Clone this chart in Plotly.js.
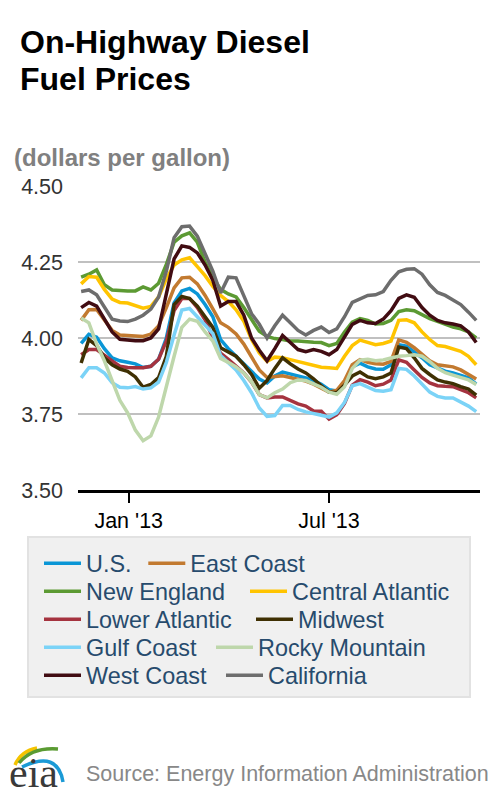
<!DOCTYPE html>
<html><head><meta charset="utf-8">
<script src="https://cdn.plot.ly/plotly-3.0.1.min.js"></script>
<style>html,body{margin:0;padding:0;background:#fff;} #chart{width:500px;height:800px;}</style>
</head><body><div id="chart"></div>
<script>
// ---- data (weekly retail on-highway diesel, dollars per gallon) ----
const weekDates = ['2012-11-19','2012-11-26','2012-12-03','2012-12-10','2012-12-17','2012-12-24','2012-12-31',
 '2013-01-07','2013-01-14','2013-01-21','2013-01-28','2013-02-04','2013-02-11','2013-02-18','2013-02-25',
 '2013-03-04','2013-03-11','2013-03-18','2013-03-25','2013-04-01','2013-04-08','2013-04-15','2013-04-22','2013-04-29',
 '2013-05-06','2013-05-13','2013-05-20','2013-05-27','2013-06-03','2013-06-10','2013-06-17','2013-06-24',
 '2013-07-01','2013-07-08','2013-07-15','2013-07-22','2013-07-29','2013-08-05','2013-08-12','2013-08-19','2013-08-26',
 '2013-09-02','2013-09-09','2013-09-16','2013-09-23','2013-09-30','2013-10-07','2013-10-14','2013-10-21','2013-10-28',
 '2013-11-04','2013-11-11'];

const usPrice = [3.982,4.012,4.003,3.965,3.935,3.925,3.920,3.915,3.903,3.907,3.930,4.000,4.115,4.155,4.163,4.145,4.110,4.070,3.995,3.965,3.940,3.915,3.890,3.865,3.852,3.875,3.888,3.882,3.875,3.869,3.860,3.848,3.830,3.826,3.845,3.905,3.917,3.905,3.898,3.897,3.912,3.978,3.973,3.955,3.935,3.912,3.902,3.891,3.885,3.877,3.869,3.848];
const eastCoast = [4.058,4.093,4.094,4.060,4.025,4.010,4.008,4.006,4.005,4.013,4.040,4.100,4.165,4.198,4.200,4.178,4.140,4.096,4.050,4.035,4.013,3.980,3.940,3.895,3.870,3.874,3.876,3.870,3.864,3.858,3.848,3.834,3.822,3.828,3.860,3.912,3.929,3.920,3.915,3.914,3.923,3.994,3.986,3.968,3.945,3.925,3.912,3.908,3.905,3.895,3.880,3.865];
const newEngland = [4.200,4.210,4.224,4.175,4.158,4.156,4.155,4.155,4.168,4.158,4.180,4.242,4.315,4.336,4.346,4.315,4.250,4.200,4.160,4.145,4.135,4.100,4.060,4.022,4.005,3.998,3.995,3.990,3.990,3.987,3.986,3.985,3.975,3.982,4.020,4.052,4.064,4.058,4.046,4.048,4.058,4.087,4.093,4.090,4.076,4.064,4.055,4.045,4.036,4.030,4.020,4.000];
const centralAtlantic = [4.178,4.202,4.200,4.160,4.128,4.117,4.115,4.105,4.098,4.104,4.135,4.195,4.240,4.257,4.264,4.235,4.205,4.170,4.140,4.120,4.093,4.055,3.995,3.951,3.923,3.937,3.935,3.929,3.923,3.918,3.909,3.904,3.902,3.900,3.940,3.975,3.993,3.986,3.978,3.982,3.990,4.058,4.060,4.050,4.020,3.995,3.975,3.972,3.965,3.956,3.940,3.912];
const lowerAtlantic = [3.945,3.962,3.962,3.945,3.925,3.907,3.903,3.902,3.902,3.907,3.930,3.990,4.090,4.130,4.130,4.100,4.060,4.000,3.950,3.930,3.907,3.885,3.855,3.814,3.803,3.806,3.806,3.795,3.783,3.776,3.760,3.759,3.733,3.748,3.785,3.845,3.863,3.855,3.843,3.848,3.862,3.928,3.920,3.895,3.870,3.852,3.843,3.841,3.840,3.830,3.820,3.803];
const midwest = [3.918,3.995,3.975,3.935,3.912,3.898,3.890,3.872,3.838,3.847,3.870,3.940,4.110,4.137,4.130,4.105,4.070,4.035,3.968,3.953,3.940,3.912,3.880,3.835,3.860,3.900,3.935,3.915,3.898,3.885,3.866,3.843,3.822,3.820,3.845,3.875,3.888,3.872,3.866,3.872,3.885,3.970,3.965,3.935,3.900,3.880,3.862,3.855,3.850,3.840,3.832,3.812];
const gulfCoast = [3.869,3.902,3.902,3.885,3.853,3.838,3.836,3.840,3.832,3.836,3.855,3.920,4.010,4.092,4.097,4.070,4.045,4.015,3.942,3.920,3.895,3.860,3.820,3.770,3.742,3.745,3.778,3.778,3.765,3.757,3.750,3.746,3.740,3.754,3.788,3.843,3.850,3.840,3.827,3.825,3.830,3.900,3.897,3.875,3.850,3.822,3.808,3.803,3.803,3.790,3.776,3.758];
const rockyMountain = [4.066,4.050,3.980,3.925,3.860,3.795,3.754,3.697,3.662,3.678,3.740,3.845,3.940,4.035,4.062,4.055,4.020,3.990,3.933,3.920,3.905,3.885,3.856,3.814,3.803,3.820,3.832,3.853,3.862,3.860,3.850,3.838,3.822,3.815,3.840,3.900,3.927,3.930,3.925,3.928,3.934,3.940,3.942,3.945,3.940,3.922,3.900,3.886,3.878,3.870,3.862,3.847];
const westCoast = [4.100,4.117,4.105,4.060,4.020,3.996,3.993,3.991,3.991,4.000,4.030,4.140,4.260,4.303,4.298,4.280,4.240,4.190,4.105,4.120,4.120,4.075,4.000,3.960,3.925,3.965,4.008,3.985,3.962,3.955,3.962,3.956,3.945,3.962,4.005,4.045,4.058,4.050,4.048,4.062,4.090,4.130,4.142,4.134,4.100,4.075,4.058,4.050,4.046,4.040,4.020,3.985];
const california = [4.153,4.158,4.142,4.100,4.062,4.056,4.054,4.062,4.075,4.095,4.135,4.220,4.330,4.366,4.368,4.335,4.280,4.220,4.148,4.200,4.198,4.140,4.080,4.045,4.000,4.040,4.075,4.050,4.025,4.010,4.025,4.036,4.018,4.030,4.070,4.117,4.128,4.140,4.142,4.153,4.190,4.218,4.226,4.228,4.210,4.175,4.150,4.140,4.125,4.110,4.085,4.058];

const seriesNames = ['U.S.','East Coast','New England','Central Atlantic','Lower Atlantic','Midwest','Gulf Coast','Rocky Mountain','West Coast','California'];
const tickValues = [3.5,3.75,4.0,4.25,4.5];
const tickLabels = ['3.50','3.75','4.00','4.25','4.50'];
const monthTickDates = ['2013-01-01','2013-07-01'];
const monthTickLabels = ["Jan '13","Jul '13"];

// ---- styling / layout ----
const seriesValues = [usPrice,eastCoast,newEngland,centralAtlantic,lowerAtlantic,midwest,gulfCoast,rockyMountain,westCoast,california];
const lineColors = ['#0a96d6','#c27a30','#5c9a33','#ffc400','#a5333f','#3f3003','#7bd3f7','#bed7ab','#410c12','#6d6d6d'];

const ML = 78, MR = 20, MT = 186, MB = 310, W = 500, H = 800;
const PW = W - ML - MR, PH = H - MT - MB;
const px2x = p => (p - ML) / PW;
const px2y = p => (H - MB - p) / PH;
const FONT = 'Liberation Sans, Arial, Helvetica, sans-serif';

// legend entry placement (pixel position of each entry's line start, row centre)
const entryLineStart = [44, 148.3, 44, 250, 44, 256, 44, 216, 44, 226];
const entryRowCentre = [563.5, 563.5, 591.5, 591.5, 619.5, 619.5, 647.5, 647.5, 675.5, 675.5];
const legendId = k => (k === 0 ? 'legend' : 'legend' + (k + 1));

const traces = seriesValues.map((vals, k) => ({
  type: 'scatter', mode: 'lines', x: weekDates, y: vals, name: seriesNames[k],
  line: {color: lineColors[k], width: 3.5}, legend: legendId(k), hoverinfo: 'skip'
}));

function legendBox(k) {
  return {
    orientation: 'h', x: px2x(entryLineStart[k] - 5), xanchor: 'left', y: px2y(entryRowCentre[k]), yanchor: 'middle',
    bgcolor: 'rgba(0,0,0,0)', borderwidth: 0, itemwidth: 37,
    font: {family: FONT, size: 23.4, color: '#274b6d'}, itemclick: false, itemdoubleclick: false
  };
}

function pathPx(pts) {
  return pts.map(s => {
    if (typeof s === 'string') return s;
    return px2x(s[0]).toFixed(5) + ',' + px2y(s[1]).toFixed(5);
  }).join(' ');
}

const shapes = [
  {type: 'rect', xref: 'paper', yref: 'paper', x0: px2x(28), x1: px2x(470), y0: px2y(537), y1: px2y(697),
   fillcolor: '#f0f0f0', line: {color: '#e2e2e2', width: 2}, layer: 'below'},
  {type: 'path', xref: 'paper', yref: 'paper', path: pathPx(['M', [15, 765], 'Q', [21, 751], [37, 748]]),
   line: {color: '#f4c300', width: 3.5}},
  {type: 'path', xref: 'paper', yref: 'paper', path: pathPx(['M', [19, 763], 'Q', [32, 747], [58, 749]]),
   line: {color: '#5a9b32', width: 3.5}},
  {type: 'path', xref: 'paper', yref: 'paper', path: pathPx(['M', [22, 767], 'Q', [58, 750], [63, 782]]),
   line: {color: '#1b9ad6', width: 3.5}}
];

const annotations = [
  {text: '<b>On-Highway Diesel</b>', xref: 'paper', yref: 'paper', x: px2x(18), y: px2y(41.8), xanchor: 'left', yanchor: 'middle',
   showarrow: false, font: {family: FONT, size: 32, color: '#000'}},
  {text: '<b>Fuel Prices</b>', xref: 'paper', yref: 'paper', x: px2x(18), y: px2y(78.8), xanchor: 'left', yanchor: 'middle',
   showarrow: false, font: {family: FONT, size: 32, color: '#000'}},
  {text: '<b>(dollars per gallon)</b>', xref: 'paper', yref: 'paper', x: px2x(12), y: px2y(157.6), xanchor: 'left', yanchor: 'middle',
   showarrow: false, font: {family: FONT, size: 24, color: '#808080'}},
  {text: 'Source: Energy Information Administration', xref: 'paper', yref: 'paper', x: px2x(84), y: px2y(774), xanchor: 'left', yanchor: 'middle',
   showarrow: false, font: {family: FONT, size: 21.5, color: '#888888'}},
  {text: 'eia', xref: 'paper', yref: 'paper', x: px2x(7), y: px2y(773), xanchor: 'left', yanchor: 'middle',
   showarrow: false, font: {family: 'Liberation Serif, DejaVu Serif, serif', size: 42, color: '#3a3a3a'}}
];

const layout = {
  width: W, height: H, margin: {l: ML, r: MR, t: MT, b: MB, pad: 0},
  paper_bgcolor: '#ffffff', plot_bgcolor: '#ffffff',
  font: {family: FONT, color: '#333'},
  xaxis: {
    type: 'date', range: ['2012-11-16 04:00', '2013-11-14 10:00'],
    tickmode: 'array', tickvals: monthTickDates, ticktext: monthTickLabels,
    ticks: 'outside', ticklen: 10, tickwidth: 2, tickcolor: '#000',
    showline: true, linecolor: '#000', linewidth: 2.5, showgrid: false, zeroline: false,
    tickfont: {family: FONT, size: 21.5, color: '#000'}, fixedrange: true
  },
  yaxis: {
    range: [3.5, 4.5], tickmode: 'array', tickvals: tickValues, ticktext: tickLabels,
    ticks: '', showline: false, zeroline: false, showgrid: true, gridcolor: '#c0c0c0', gridwidth: 2,
    tickfont: {family: FONT, size: 21.5, color: '#333'}, ticklabelstandoff: 14, fixedrange: true
  },
  shapes: shapes, annotations: annotations, showlegend: true
};
seriesNames.forEach((_, k) => { layout[legendId(k)] = legendBox(k); });

Plotly.newPlot('chart', traces, layout, {displayModeBar: false, staticPlot: true});
</script>
</body></html>
